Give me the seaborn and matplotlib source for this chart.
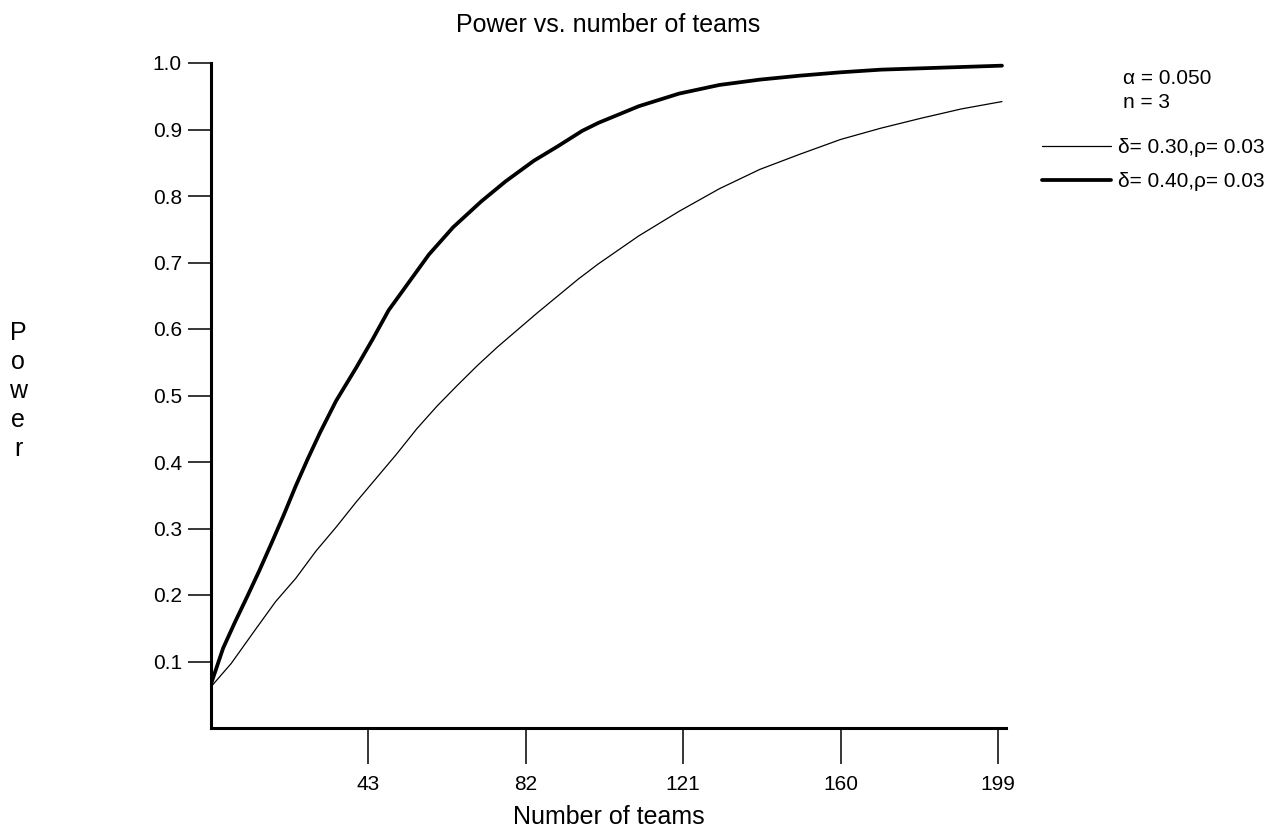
import matplotlib
matplotlib.use("Agg")
import matplotlib.pyplot as plt
import seaborn as sns
import pandas as pd
from matplotlib.lines import Line2D

# ---- data ----
teams_d30 = [4, 9, 15, 20, 25, 30, 35, 40, 45, 50, 55, 60, 65, 70, 75, 80, 85, 90, 95,
             100, 110, 120, 130, 140, 150, 160, 170, 180, 190, 200]
power_d30 = [0.062, 0.097, 0.148, 0.190, 0.225, 0.266, 0.302, 0.340, 0.376, 0.412,
             0.450, 0.484, 0.515, 0.545, 0.573, 0.599, 0.625, 0.650, 0.675, 0.698,
             0.740, 0.777, 0.811, 0.840, 0.863, 0.885, 0.902, 0.917, 0.931, 0.942]

teams_d40 = [4, 7, 10, 13, 16, 19, 22, 25, 28, 31, 35, 40, 44, 48, 53, 58, 64, 71, 77,
             84, 90, 96, 100, 110, 120, 130, 140, 150, 160, 170, 180, 190, 200]
power_d40 = [0.066, 0.120, 0.160, 0.198, 0.237, 0.278, 0.320, 0.364, 0.405, 0.444,
             0.492, 0.542, 0.584, 0.628, 0.670, 0.712, 0.753, 0.792, 0.822, 0.853,
             0.875, 0.898, 0.910, 0.935, 0.954, 0.967, 0.975, 0.981, 0.986, 0.990,
             0.992, 0.994, 0.996]

series_labels = ["δ= 0.30,ρ= 0.03", "δ= 0.40,ρ= 0.03"]
x_ticks = [43, 82, 121, 160, 199]
y_ticks = [0.1, 0.2, 0.3, 0.4, 0.5, 0.6, 0.7, 0.8, 0.9, 1.0]
title = "Power vs. number of teams"
x_label = "Number of teams"
y_label = "P\no\nw\ne\nr"
info_lines = ["α = 0.050", "n = 3"]

df = pd.concat([
    pd.DataFrame({"teams": teams_d30, "power": power_d30, "series": series_labels[0]}),
    pd.DataFrame({"teams": teams_d40, "power": power_d40, "series": series_labels[1]}),
], ignore_index=True)

sns.set_style("white")
plt.rcParams["font.family"] = ["Liberation Sans", "DejaVu Sans"]
plt.rcParams["text.color"] = "black"
plt.rcParams["axes.labelcolor"] = "black"
plt.rcParams["xtick.color"] = "black"
plt.rcParams["ytick.color"] = "black"

fig = plt.figure(figsize=(12.78, 8.32), dpi=100)
ax = fig.add_axes([211 / 1278, 1 - 728 / 832, 795 / 1278, 665 / 832])

sns.lineplot(data=df, x="teams", y="power", hue="series", size="series",
             sizes={series_labels[0]: 0.9, series_labels[1]: 2.7},
             palette={series_labels[0]: "black", series_labels[1]: "black"},
             ax=ax, legend=False)

ax.set_xlim(4, 201)
ax.set_ylim(0, 1.0)
ax.set_xticks(x_ticks)
ax.set_xticklabels([str(t) for t in x_ticks])
ax.set_yticks(y_ticks)
ax.set_yticklabels([f"{t:.1f}" for t in y_ticks])

for s in ["top", "right"]:
    ax.spines[s].set_visible(False)
for s in ["left", "bottom"]:
    ax.spines[s].set_linewidth(2.2)
    ax.spines[s].set_color("black")

ax.tick_params(axis="y", direction="out", length=16.5, width=1.1, pad=4.5,
               labelsize=15, colors="black", left=True)
ax.tick_params(axis="x", direction="out", length=26, width=1.1, pad=8,
               labelsize=15, colors="black", bottom=True)

ax.set_title(title, fontsize=18, pad=22, color="black")
ax.set_xlabel(x_label, fontsize=18, va="center", color="black")
ax.xaxis.set_label_coords(0.5, (728 - 817) / 665)
ax.set_ylabel(y_label, fontsize=18, rotation=0, va="center", ha="center",
              multialignment="center", linespacing=1.27, color="black")
ax.yaxis.set_label_coords((18 - 211) / 795, (728 - 391) / 665)

handles = [Line2D([], [], color="black", lw=0.9), Line2D([], [], color="black", lw=2.7)]
leg = ax.legend(handles, series_labels, loc="upper left",
                bbox_to_anchor=(1042 / 1278, 1 - 138 / 832), bbox_transform=fig.transFigure,
                frameon=False, fontsize=15, handlelength=3.3, handletextpad=0.35,
                borderpad=0, borderaxespad=0, labelspacing=0.74)
for t in leg.get_texts():
    t.set_color("black")

fig.text(1123 / 1278, 1 - 78 / 832, info_lines[0], fontsize=15, va="center", ha="left")
fig.text(1123 / 1278, 1 - 103 / 832, info_lines[1], fontsize=15, va="center", ha="left")

fig.savefig("out.png", dpi=100, facecolor="white")
